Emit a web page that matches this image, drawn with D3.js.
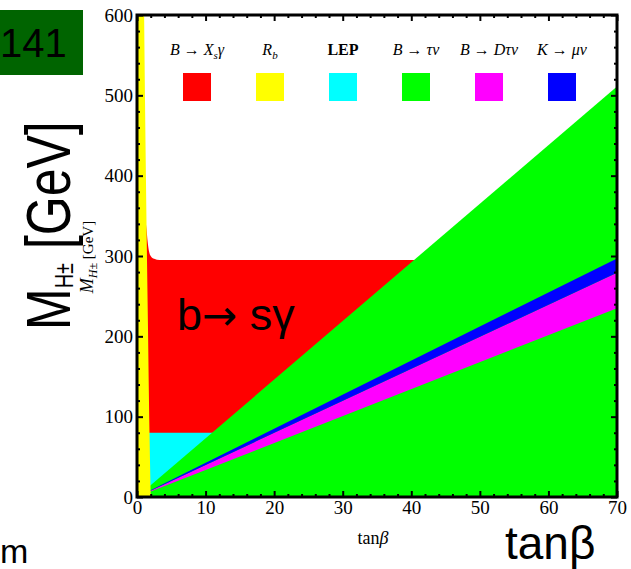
<!DOCTYPE html>
<html>
<head>
<meta charset="utf-8">
<script src="https://cdn.jsdelivr.net/npm/d3@7"></script>
<style>
  html, body { margin: 0; padding: 0; background: #fff; }
  svg { display: block; }
</style>
</head>
<body>
<svg id="chart" width="631" height="569"></svg>
<script>
// ---- data -------------------------------------------------------------
const xTicks = [0, 10, 20, 30, 40, 50, 60, 70];
const yTicks = [0, 100, 200, 300, 400, 500, 600];

// R_b exclusion: right edge of the yellow strip, [M_H, tanβ]
const rbBoundary = [[0, 2.0], [100, 1.78], [200, 1.62], [300, 1.45], [400, 1.3], [500, 1.16], [600, 1.04]];

// b → sγ exclusion: upper edge of the red region, [tanβ, M_H]
const bsgBoundary = [[1.3, 340], [1.4, 332], [1.55, 318], [1.75, 306], [2.0, 300], [2.5, 296.5], [3.3, 295], [70, 295]];

// LEP direct search limit (M_H) and its tanβ span
const lepLimit = [[0, 80], [11.2, 80]];

// B → τν: upper edge of the green region, [tanβ, M_H]
const btaunuEdge = [[1.9, 14], [70, 511]];

// B → Dτν and K → μν bands: [tanβ, M_H] corners
const bdtaunuBand = [[1.9, 6.4], [70, 235], [70, 279], [1.9, 7.6]];
const kmunuBand = [[1.9, 7.6], [70, 279], [70, 297], [1.9, 8.1]];

// legend
const legendLabels = ["B → X_sγ", "R_b", "LEP", "B  → τν", "B → Dτν", "K  → μν"];
const legendColors = ["#ff0000", "#ffff00", "#00ffff", "#00ff00", "#ff00ff", "#0000ff"];

// ---- layout -----------------------------------------------------------
const svg = d3.select("#chart");
const x = d3.scaleLinear().domain([0, 70]).range([137, 617]);
const y = d3.scaleLinear().domain([0, 600]).range([497, 15]);

svg.append("defs").append("clipPath").attr("id", "plot-clip")
  .append("rect")
  .attr("x", x(0)).attr("y", y(600))
  .attr("width", x(70) - x(0)).attr("height", y(0) - y(600));

const plot = svg.append("g").attr("clip-path", "url(#plot-clip)");

// b → sγ (red)
plot.append("path")
  .datum(bsgBoundary)
  .attr("fill", "#ff0000")
  .attr("d", d3.area().x(d => x(d[0])).y0(y(0)).y1(d => y(d[1])).curve(d3.curveMonotoneX));

// LEP (cyan)
plot.append("path")
  .datum(lepLimit)
  .attr("fill", "#00ffff")
  .attr("d", d3.area().x(d => x(d[0])).y0(y(0)).y1(d => y(d[1])));

// B → τν (green): everything under its edge line
const greenPoly = [[btaunuEdge[0][0], 0], ...btaunuEdge, [btaunuEdge[btaunuEdge.length - 1][0], 0]];
plot.append("path")
  .datum(greenPoly)
  .attr("fill", "#00ff00")
  .attr("d", d3.line().x(d => x(d[0])).y(d => y(d[1])));

// B → Dτν (magenta) and K → μν (blue) bands
const polyLine = d3.line().x(d => x(d[0])).y(d => y(d[1])).curve(d3.curveLinearClosed);
plot.append("path").datum(bdtaunuBand).attr("fill", "#ff00ff").attr("d", polyLine);
plot.append("path").datum(kmunuBand).attr("fill", "#0000ff").attr("d", polyLine);

// R_b (yellow)
plot.append("path")
  .datum(rbBoundary)
  .attr("fill", "#ffff00")
  .attr("d", d3.area().y(d => y(d[0])).x0(x(0)).x1(d => x(d[1])).curve(d3.curveMonotoneY));

// ---- axes & frame ----------------------------------------------------
const serif = "'Liberation Serif', 'Times New Roman', serif";
const xMinor = d3.range(0, 71, 2).filter(v => v % 10 !== 0);
const yMinor = d3.range(0, 601, 20).filter(v => v % 100 !== 0);

function styleAxis(g, labels) {
  g.select(".domain").remove();
  g.selectAll(".tick line").attr("stroke", "#000").attr("stroke-width", 2);
  g.selectAll(".tick text")
    .attr("font-family", serif)
    .attr("font-size", 19)
    .attr("fill", "#000")
    .attr("display", labels ? null : "none");
}

// bottom
svg.append("g").attr("transform", `translate(0,${y(0)})`)
  .call(d3.axisBottom(x).tickValues(xTicks).tickSizeInner(-6).tickSizeOuter(0).tickPadding(4).tickFormat(d3.format("d")))
  .call(g => styleAxis(g, true));
svg.append("g").attr("transform", `translate(0,${y(0)})`)
  .call(d3.axisBottom(x).tickValues(xMinor).tickSizeInner(-3).tickSizeOuter(0).tickFormat(""))
  .call(g => styleAxis(g, false));
// top
svg.append("g").attr("transform", `translate(0,${y(600)})`)
  .call(d3.axisTop(x).tickValues(xTicks).tickSizeInner(-6).tickSizeOuter(0).tickFormat(""))
  .call(g => styleAxis(g, false));
svg.append("g").attr("transform", `translate(0,${y(600)})`)
  .call(d3.axisTop(x).tickValues(xMinor).tickSizeInner(-3).tickSizeOuter(0).tickFormat(""))
  .call(g => styleAxis(g, false));
// left
svg.append("g").attr("transform", `translate(${x(0)},0)`)
  .call(d3.axisLeft(y).tickValues(yTicks).tickSizeInner(-6).tickSizeOuter(0).tickPadding(4).tickFormat(d3.format("d")))
  .call(g => styleAxis(g, true));
svg.append("g").attr("transform", `translate(${x(0)},0)`)
  .call(d3.axisLeft(y).tickValues(yMinor).tickSizeInner(-3).tickSizeOuter(0).tickFormat(""))
  .call(g => styleAxis(g, false));
// right
svg.append("g").attr("transform", `translate(${x(70)},0)`)
  .call(d3.axisRight(y).tickValues(yTicks).tickSizeInner(-6).tickSizeOuter(0).tickFormat(""))
  .call(g => styleAxis(g, false));
svg.append("g").attr("transform", `translate(${x(70)},0)`)
  .call(d3.axisRight(y).tickValues(yMinor).tickSizeInner(-3).tickSizeOuter(0).tickFormat(""))
  .call(g => styleAxis(g, false));

svg.append("rect")
  .attr("x", x(0)).attr("y", y(600))
  .attr("width", x(70) - x(0)).attr("height", y(0) - y(600))
  .attr("fill", "none").attr("stroke", "#000").attr("stroke-width", 3);

// axis titles (plot's own)
svg.append("text")
  .attr("x", 373).attr("y", 544)
  .attr("text-anchor", "middle")
  .attr("font-family", serif).attr("font-size", 18)
  .text("tan").append("tspan").attr("font-style", "italic").text("β");

const yTitle = svg.append("text")
  .attr("transform", "translate(93,257) rotate(-90)")
  .attr("text-anchor", "middle")
  .attr("font-family", serif).attr("font-size", 18);
yTitle.append("tspan").attr("font-style", "italic").text("M");
yTitle.append("tspan").attr("font-style", "italic").attr("font-size", 12).attr("dy", 4).text("H±");
yTitle.append("tspan").attr("font-size", 15).attr("dy", -4).text(" [GeV]");

// ---- legend ------------------------------------------------------------
const legendX = d3.scalePoint().domain(legendLabels).range([197, 562]);

function addLabel(sel, label) {
  const parts = label.split(/(_.)/).filter(s => s.length);
  let prevSub = false;
  parts.forEach(p => {
    if (p.startsWith("_")) {
      sel.append("tspan").attr("font-size", 11).attr("dy", 4).text(p.slice(1));
      prevSub = true;
    } else {
      const t = sel.append("tspan").text(p);
      if (prevSub) t.attr("dy", -4);
      prevSub = false;
    }
  });
  if (label === "LEP") sel.attr("font-weight", "bold").attr("font-style", "normal");
}

const legend = svg.append("g");
legendLabels.forEach((lab, i) => {
  const cx = legendX(lab);
  const t = legend.append("text")
    .attr("x", cx).attr("y", 55)
    .attr("text-anchor", "middle")
    .attr("font-family", serif).attr("font-size", 16)
    .attr("font-style", "italic");
  addLabel(t, lab);
  legend.append("rect")
    .attr("x", cx - 14).attr("y", 73)
    .attr("width", 28).attr("height", 28)
    .attr("fill", legendColors[i]);
});

// ---- slide annotations --------------------------------------------------
const sans = "'Liberation Sans', Arial, sans-serif";

svg.append("rect").attr("x", 0).attr("y", 10).attr("width", 83).attr("height", 65).attr("fill", "#006400");
svg.append("text").attr("x", 0).attr("y", 57)
  .attr("font-family", sans).attr("font-size", 40).attr("fill", "#000").text("141");

const bigY = svg.append("text")
  .attr("transform", "translate(70,330) rotate(-90) scale(1,1.25)")
  .attr("font-family", sans).attr("font-size", 50).attr("fill", "#000");
bigY.append("tspan").text("M");
bigY.append("tspan").attr("font-size", 20).attr("dy", 2).text("H±");
bigY.append("tspan").attr("dy", -2).text(" [GeV]");

const bsgLabel = svg.append("text").attr("x", 177).attr("y", 330)
  .attr("font-family", sans).attr("font-size", 45).attr("fill", "#000");
bsgLabel.append("tspan").text("b");
bsgLabel.append("tspan").attr("font-family", "'DejaVu Sans', sans-serif").attr("font-size", 42).text("→");
bsgLabel.append("tspan").text(" sγ");

svg.append("text").attr("x", 505).attr("y", 559)
  .attr("font-family", sans).attr("font-size", 46).attr("fill", "#000").text("tanβ");

svg.append("text").attr("x", 0).attr("y", 563)
  .attr("font-family", sans).attr("font-size", 34).attr("fill", "#000").text("m");
</script>
</body>
</html>
